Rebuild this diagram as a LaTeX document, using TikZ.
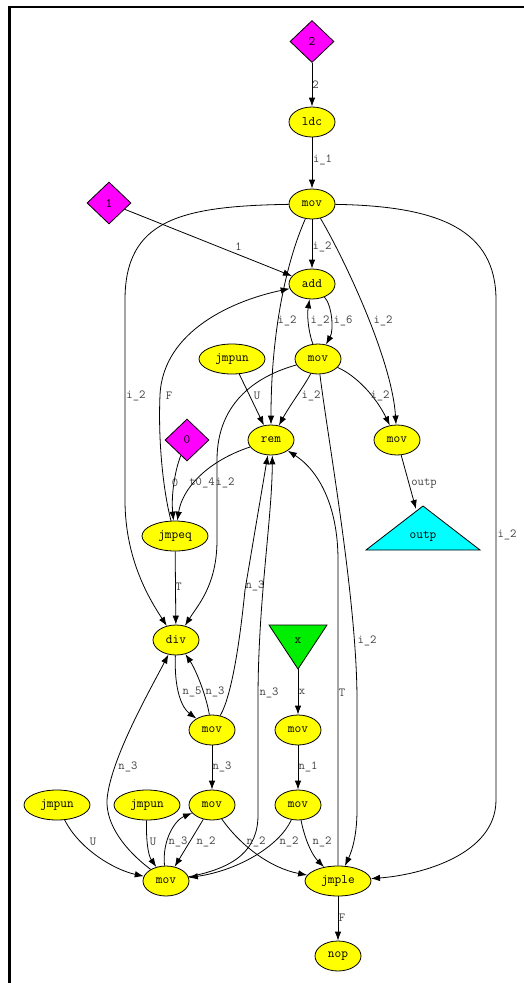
\documentclass[tikz,border=0pt]{standalone}
\usepackage{fontspec}
\usetikzlibrary{shapes.geometric,arrows.meta}
\definecolor{gvyellow}{RGB}{255,255,0}
\definecolor{gvmag}{RGB}{255,0,255}
\definecolor{gvcyan}{RGB}{0,255,255}
\definecolor{gvgreen}{RGB}{0,238,0}
\definecolor{gvlbl}{RGB}{64,64,64}
\begin{document}
\begin{tikzpicture}[x=1pt,y=-1pt,
  op/.style={ellipse,draw,line width=0.8pt,fill=gvyellow,minimum width=46pt,minimum height=30pt,inner sep=0pt,font=\ttfamily\fontsize{13}{14}\selectfont},
  wideop/.style={op,minimum width=66pt},
  const/.style={diamond,draw,line width=0.8pt,fill=gvmag,minimum width=44pt,minimum height=42pt,inner sep=0pt,font=\ttfamily\fontsize{13}{14}\selectfont},
  tritext/.style={inner sep=0pt,font=\ttfamily\fontsize{13}{14}\selectfont},
  lbl/.style={inner sep=0pt,text=gvlbl,font=\ttfamily\fontsize{12.3}{13}\selectfont},
  conn/.style={line width=0.8pt,-{Latex[length=9pt,width=6.5pt]}}
]
\useasboundingbox (0,0) rectangle (523,983);
% frame
\draw[line width=3pt] (9.5,6) -- (9.5,985);
\draw[line width=2pt] (8,7) -- (525,7);

% triangles
\filldraw[fill=gvcyan,line width=0.8pt] (366,550) -- (423,506) -- (480,550) -- cycle;
\filldraw[fill=gvgreen,line width=0.8pt] (269,625) -- (327,625) -- (298,669) -- cycle;
\coordinate (outptip) at (416,509);
\coordinate (xtip) at (298,669);

% nodes
\node[const] (d2) at (312,41.5) {2};
\node[op] (ldc) at (312,122) {ldc};
\node[op] (mov1) at (312,204) {mov};
\node[const] (d1) at (109,203) {1};
\node[op] (add) at (312,284) {add};
\node[wideop] (jmpun1) at (232,359) {jmpun};
\node[op] (mov2) at (318,359) {mov};
\node[op] (rem) at (271,440) {rem};
\node[op] (mov3) at (397,440) {mov};
\node[const] (d0) at (187,440) {0};
\node[wideop] (jmpeq) at (175,536) {jmpeq};
\node[tritext] (outp) at (423,536) {outp};
\node[op] (div) at (176,640) {div};
\node[tritext] (xin) at (298,641) {x};
\node[op] (mov4) at (212,730) {mov};
\node[op] (mov5) at (298,730) {mov};
\node[wideop] (jmpun2) at (57,805) {jmpun};
\node[wideop] (jmpun3) at (147,805) {jmpun};
\node[op] (mov6) at (212,805) {mov};
\node[op] (mov7) at (298,805) {mov};
\node[op] (mov8) at (166,881) {mov};
\node[wideop] (jmple) at (338,881) {jmple};
\node[op] (nop) at (338,956) {nop};

% edges
\draw[conn] (d2) -- (ldc);
\draw[conn] (ldc) -- (mov1);
\draw[conn] (mov1) -- (add);
\draw[conn] (d1) -- (add);
\draw[conn] (mov1) .. controls (180,206) and (125,220) .. (125,300) -- (125,500) .. controls (125,560) and (150,600) .. (div);
\draw[conn] (mov1) .. controls (287,260) and (271,330) .. (rem);
\draw[conn] (mov1) .. controls (345,260) and (392,360) .. (mov3);
\draw[conn] (mov1) .. controls (440,206) and (496,230) .. (496,300) -- (496,800) .. controls (496,855) and (420,875) .. (jmple);
\draw[conn] (mov2) .. controls (308,330) and (307,315) .. (add);
\draw[conn] (add) .. controls (332,305) and (334,330) .. (mov2);
\draw[conn] (jmpeq) .. controls (163,490) and (158,440) .. (160,395) .. controls (163,330) and (235,300) .. (add);
\draw[conn] (jmpun1) -- (rem);
\draw[conn] (mov2) .. controls (305,385) and (290,405) .. (rem);
\draw[conn] (mov2) .. controls (355,375) and (375,395) .. (mov3);
\draw[conn] (mov2) .. controls (260,375) and (217,400) .. (217,460) -- (217,540) .. controls (217,585) and (198,605) .. (div);
\draw[conn] (mov2) .. controls (328,440) and (357,600) .. (357,700) -- (357,810) .. controls (357,840) and (350,855) .. (jmple);
\draw[conn] (rem) .. controls (205,462) and (182,490) .. (jmpeq);
\draw[conn] (d0) .. controls (175,470) and (171,495) .. (jmpeq);
\draw[conn] (jmpeq) -- (div);
\draw[conn] (jmple) -- (338,560) .. controls (338,505) and (318,470) .. (rem);
\draw[conn] (mov4) .. controls (232,695) and (240,640) .. (245,590) -- (rem.258);
\draw[conn] (mov8) .. controls (235,868) and (258,850) .. (258,815) -- (258,700) .. controls (258,600) and (272,520) .. (rem.275);
\draw[conn] (mov3) -- (outptip);
\draw[conn] (div) .. controls (174,690) and (182,708) .. (mov4);
\draw[conn] (mov4) .. controls (206,695) and (196,670) .. (div);
\draw[conn] (mov4) -- (mov6);
\draw[conn] (xtip) -- (mov5);
\draw[conn] (mov5) -- (mov7);
\draw[conn] (mov8) .. controls (125,850) and (106,825) .. (107,800) .. controls (110,760) and (150,690) .. (div);
\draw[conn] (jmpun2) .. controls (80,850) and (115,870) .. (mov8);
\draw[conn] (jmpun3) .. controls (146,840) and (148,855) .. (mov8);
\draw[conn] (mov8) .. controls (162,840) and (175,820) .. (mov6);
\draw[conn] (mov6) -- (mov8);
\draw[conn] (mov6) .. controls (240,845) and (270,868) .. (jmple);
\draw[conn] (mov7) .. controls (280,845) and (240,870) .. (mov8);
\draw[conn] (mov7) .. controls (305,840) and (312,855) .. (jmple);
\draw[conn] (jmple) -- (nop);

% labels
\node[lbl] (l1) at (315.5,85) {2};
\node[lbl] (l2) at (322.5,160) {i\_1};
\node[lbl] (l3) at (322,247) {i\_2};
\node[lbl] (l4) at (238.5,247) {1};
\node[lbl] (l5) at (287,321) {i\_2};
\node[lbl] (l6) at (320,321) {i\_2};
\node[lbl] (l7) at (343,321) {i\_6};
\node[lbl] (l8) at (383,321) {i\_2};
\node[lbl] (l9) at (136,396) {i\_2};
\node[lbl] (l10) at (169,396) {F};
\node[lbl] (l11) at (257,396) {U};
\node[lbl] (l12) at (311,396) {i\_2};
\node[lbl] (l13) at (380,396) {i\_2};
\node[lbl] (l14) at (175,483) {0};
\node[lbl] (l15) at (202,483) {t0\_4};
\node[lbl] (l16) at (225,483) {i\_2};
\node[lbl] (l17) at (424,483) {outp};
\node[lbl] (l18) at (507,535) {i\_2};
\node[lbl] (l19) at (178.5,587) {T};
\node[lbl] (l20) at (255,586) {n\_3};
\node[lbl] (l21) at (367,641) {i\_2};
\node[lbl] (l22) at (192,692) {n\_5};
\node[lbl] (l23) at (215,692) {n\_3};
\node[lbl] (l24) at (269,693) {n\_3};
\node[lbl] (l25) at (302,692) {x};
\node[lbl] (l26) at (342,693) {T};
\node[lbl] (l27) at (128,767) {n\_3};
\node[lbl] (l28) at (222,767) {n\_3};
\node[lbl] (l29) at (308,767) {n\_1};
\node[lbl] (l30) at (93,842) {U};
\node[lbl] (l31) at (153,842) {U};
\node[lbl] (l32) at (178,842) {n\_3};
\node[lbl] (l33) at (206,842) {n\_2};
\node[lbl] (l34) at (256,842) {n\_2};
\node[lbl] (l35) at (289,842) {n\_2};
\node[lbl] (l36) at (322,842) {n\_2};
\node[lbl] (l37) at (342,918) {F};
\end{tikzpicture}
\end{document}
